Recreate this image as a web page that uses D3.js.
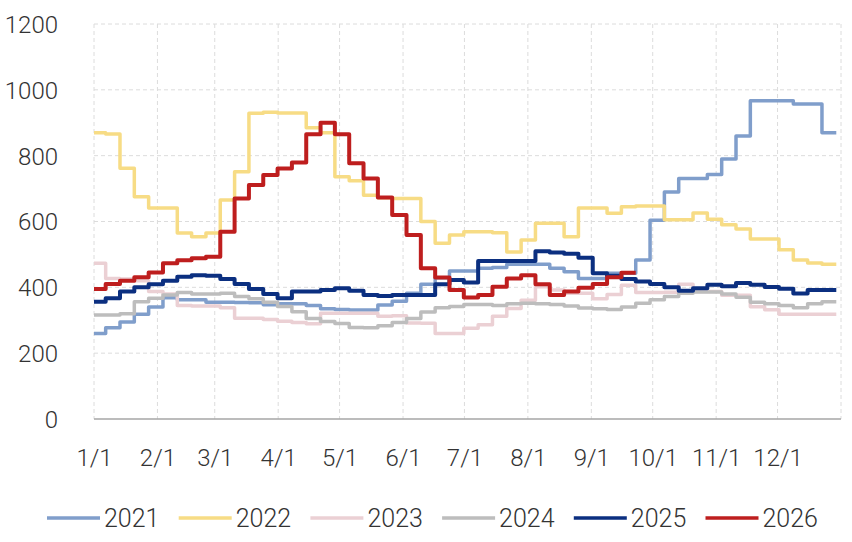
<!DOCTYPE html>
<html>
<head>
<meta charset="utf-8">
<script src="https://cdn.jsdelivr.net/npm/d3@7"></script>
<style>
  body { margin: 0; background: #fff; }
  text { font-family: Roboto, "Noto Sans", sans-serif; font-weight: 300; fill: #333; }
</style>
</head>
<body>
<div id="chart"></div>
<script>
// weekly values, one per week of the year
var years = ['2021', '2022', '2023', '2024', '2025', '2026'];

var s2021 = [260, 277, 295, 318, 340, 368, 362, 362, 355, 355, 354, 353, 347, 350, 350, 345, 335, 333, 331, 331,
             346, 358, 382, 409, 429, 450, 450, 458, 460, 470, 470, 470, 458, 447, 427, 427, 443, 443, 483, 604,
             690, 731, 731, 743, 790, 860, 967, 967, 967, 957, 957, 870];
var s2022 = [870, 866, 762, 675, 641, 641, 565, 554, 565, 665, 751, 929, 932, 930, 930, 885, 870, 736, 724, 680,
             672, 670, 670, 600, 534, 559, 569, 569, 566, 507, 544, 595, 595, 554, 641, 641, 625, 645, 647, 647,
             605, 605, 626, 607, 590, 577, 547, 547, 514, 483, 474, 470];
var s2023 = [473, 427, 425, 420, 387, 380, 345, 343, 343, 338, 306, 306, 302, 297, 293, 289, 321, 321, 321, 321,
             312, 314, 292, 291, 260, 260, 276, 286, 312, 336, 361, 402, 392, 382, 382, 365, 378, 406, 384, 384,
             385, 409, 387, 387, 376, 376, 341, 332, 318, 318, 318, 318];
var s2024 = [316, 316, 320, 356, 367, 377, 384, 380, 380, 382, 372, 365, 355, 342, 326, 305, 296, 290, 278, 277,
             283, 293, 305, 325, 338, 342, 348, 348, 345, 350, 352, 350, 348, 343, 337, 335, 333, 340, 352, 362,
             372, 382, 386, 386, 380, 370, 355, 350, 345, 338, 350, 356];
var s2025 = [356, 367, 387, 400, 409, 420, 432, 437, 435, 425, 410, 395, 380, 367, 387, 387, 392, 397, 390, 377,
             374, 377, 377, 377, 409, 422, 415, 480, 480, 480, 480, 510, 506, 502, 490, 443, 435, 425, 418, 410,
             400, 390, 397, 408, 403, 413, 408, 401, 396, 381, 392, 392];
var s2026 = [395, 410, 420, 431, 445, 473, 482, 488, 493, 569, 670, 711, 741, 761, 779, 865, 900, 865, 777, 731,
             673, 620, 559, 458, 430, 392, 369, 377, 402, 427, 437, 409, 377, 387, 399, 410, 431, 444];

var series = [s2021, s2022, s2023, s2024, s2025, s2026];
var colors = ['#809ecb', '#f7dc85', '#ebd0d4', '#bdbdbd', '#0b2f80', '#be1e1e'];
var widths = [3.5, 3.5, 3.5, 3.5, 4, 4];

var monthLabels = ['1/1', '2/1', '3/1', '4/1', '5/1', '6/1', '7/1', '8/1', '9/1', '10/1', '11/1', '12/1'];
var monthDays = [0, 31, 59, 90, 120, 151, 181, 212, 243, 273, 304, 334];
var yTicks = [0, 200, 400, 600, 800, 1000, 1200];

var W = 852, H = 542;
var plotL = 94, plotR = 841, plotT = 24, plotB = 419;

var svg = d3.select('#chart').append('svg')
    .attr('width', W)
    .attr('height', H);

svg.append('rect').attr('width', W).attr('height', H).attr('fill', '#fff');

var x = d3.scaleLinear().domain([0, 365]).range([plotL, plotR]);
var y = d3.scaleLinear().domain([0, 1200]).range([plotB, plotT]);

// grid
svg.append('g').selectAll('line')
    .data(yTicks.slice(1))
    .enter().append('line')
    .attr('x1', plotL).attr('x2', plotR)
    .attr('y1', function(d) { return y(d); })
    .attr('y2', function(d) { return y(d); })
    .attr('stroke', '#dcdcdc')
    .attr('stroke-dasharray', '4,3');

svg.append('g').selectAll('line')
    .data(monthDays.concat([365]))
    .enter().append('line')
    .attr('x1', function(d) { return x(d); })
    .attr('x2', function(d) { return x(d); })
    .attr('y1', plotT).attr('y2', plotB)
    .attr('stroke', '#dcdcdc')
    .attr('stroke-dasharray', '4,3');

// y axis labels
var yAxis = d3.axisLeft(y).tickValues(yTicks).tickFormat(d3.format('d')).tickSize(0).tickPadding(0);
svg.append('g')
    .attr('transform', 'translate(58,0)')
    .call(yAxis)
    .call(function(g) { g.select('.domain').remove(); })
    .selectAll('text')
    .attr('font-size', 24)
    .attr('dy', '0.35em')
    .style('fill', '#333');

// x axis labels
var xAxis = d3.axisBottom(x).tickValues(monthDays)
    .tickFormat(function(d, i) { return monthLabels[i]; })
    .tickSize(0).tickPadding(0);
svg.append('g')
    .attr('transform', 'translate(0,' + plotB + ')')
    .call(xAxis)
    .call(function(g) { g.select('.domain').remove(); })
    .selectAll('text')
    .attr('font-size', 24)
    .attr('y', 39)
    .attr('dy', '0.35em')
    .style('fill', '#333');

// baseline
svg.append('line')
    .attr('x1', plotL).attr('x2', plotR)
    .attr('y1', y(0)).attr('y2', y(0))
    .attr('stroke', '#a6a6a6')
    .attr('stroke-width', 1.5);

// week start day for each value
function weekDay(i) { return Math.max(0, i * 7 - 1.3); }

var line = d3.line()
    .x(function(d) { return x(d.day); })
    .y(function(d) { return y(d.v); })
    .curve(d3.curveStepAfter);

series.forEach(function(s, k) {
    var pts = s.map(function(v, i) { return { day: weekDay(i), v: v }; });
    // hold the last value for its week
    pts.push({ day: Math.min(364, weekDay(s.length)), v: s[s.length - 1] });
    svg.append('path')
        .attr('d', line(pts))
        .attr('fill', 'none')
        .attr('stroke', colors[k])
        .attr('stroke-width', widths[k])
        .attr('stroke-linejoin', 'round');
});

// legend
var legend = svg.append('g').attr('transform', 'translate(47,518)');
var item = legend.selectAll('g')
    .data(years)
    .enter().append('g')
    .attr('transform', function(d, i) { return 'translate(' + (i * 131.7) + ',0)'; });

item.append('line')
    .attr('x1', 0).attr('x2', 53)
    .attr('stroke', function(d, i) { return colors[i]; })
    .attr('stroke-width', 3.5);

item.append('text')
    .attr('x', 57)
    .attr('dy', '0.35em')
    .attr('font-size', 25)
    .text(function(d) { return d; });
</script>
</body>
</html>
